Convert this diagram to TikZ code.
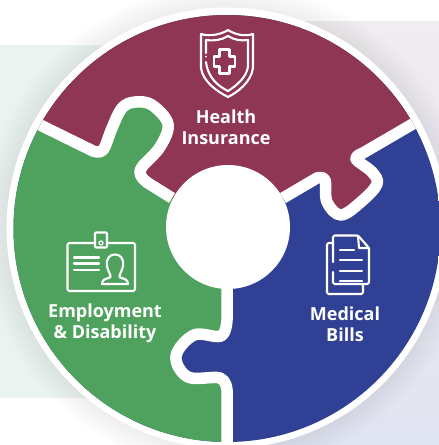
\documentclass[tikz,border=0pt]{standalone}
\usepackage{fontspec}
\setmainfont{Open Sans}
\definecolor{maroonp}{HTML}{8E3654}
\definecolor{greenp}{HTML}{4FA25E}
\definecolor{bluep}{HTML}{2F4095}
\definecolor{panelg}{HTML}{EBF3F1}
\definecolor{paneltop}{HTML}{F0ECF0}
\definecolor{panelbot}{HTML}{E1E5F1}
\tikzset{
  gmpath/.style={insert path={-- plot[smooth,tension=0.6] coordinates {(93,151) (103,150) (112,128) (122,108) (135,102) (152,105) (168,124) (160,147) (142,167) (141,176) (148,183)}}},
  mbpath/.style={insert path={-- plot[smooth,tension=0.6] coordinates {(317,178) (325,180) (327,202) (341,215) (362,201) (377,184) (372,172) (356,159) (363,153)}}},
  gbpath/.style={insert path={-- plot[smooth,tension=0.6] coordinates {(227,320) (221,336) (194,335) (176,356) (188,377) (220,378) (227,390)}}},
  gapline/.style={draw=white,line width=11.5pt,line join=round},
  iconline/.style={draw=white,line width=2.1pt,line join=round,line cap=round},
  puzzlelabel/.style={text=white,font=\fontsize{18}{21}\selectfont\bfseries,align=center,inner sep=0pt}
}
\begin{document}
\begin{tikzpicture}[x=1pt,y=-1pt]
\useasboundingbox (0,0) rectangle (439,445);
\fill[white] (0,0) rectangle (439,445);
\fill[panelg] (0,45) rectangle (228,398);
\shade[top color=paneltop,bottom color=panelbot] (228,21) rectangle (439,445);
% soft shadow
\foreach \r in {221,222.5,...,246}{\fill[black,opacity=0.0045] (227,228) circle (\r);}
% white ring
\fill[white] (227,228) circle (220.5);
\begin{scope}
\clip (227,228.5) circle (213.5);
\fill[bluep] (0,0) rectangle (439,445);
\fill[maroonp] (20,115) -- (40,125) [gmpath] -- (172,198) -- (228,227) -- (283,198) [mbpath] -- (413,124) -- (440,108) -- (440,0) -- (0,0) -- cycle;
\fill[greenp] (20,115) -- (40,125) [gmpath] -- (172,198) -- (228,227) -- (227,288) [gbpath] -- (227,445) -- (0,445) -- cycle;
% white gaps
\draw[gapline] (30,120) [gmpath] -- (172,198);
\draw[gapline] (283,198) [mbpath] -- (423,118);
\draw[gapline] (227,280) [gbpath] -- (227,450);
\end{scope}
\fill[white] (228,227) circle (62);
% shield
\draw[iconline] (228,30) .. controls (222,34) and (210,37) .. (201,34) -- (201,68) .. controls (203,82) and (218,92) .. (228,97) .. controls (238,92) and (251,82) .. (253,68) -- (253,34) .. controls (244,37) and (234,34) .. (228,30) -- cycle;
\draw[iconline] (206,53) -- (206,40) .. controls (214,41) and (222,40) .. (228,36) .. controls (234,40) and (241,41) .. (248,40) -- (248,67) .. controls (246,78) and (236,86) .. (228,91) .. controls (218,86) and (208,78) .. (206,62);
\fill[white] (206,56.5) circle (1);
\draw[iconline] (219.5,49.5) -- (229.5,49.5) -- (229.5,56.5) -- (235,56.5) -- (235,66.5) -- (229.5,66.5) -- (229.5,73.5) -- (219.5,73.5) -- (219.5,66.5) -- (214,66.5) -- (214,56.5) -- (219.5,56.5) -- cycle;
% id card
\draw[iconline,rounded corners=1.5pt] (95,243) -- (67.5,243) -- (67.5,291) -- (135,291) -- (135,243) -- (107,243);
\draw[iconline,rounded corners=1pt] (95,232.5) rectangle (107,247.5);
\draw[draw=white,line width=1.2pt] (101,243) circle (2);
\draw[iconline] (74,257.5) -- (99,257.5) (74,263.5) -- (99,263.5) (74,270) -- (99,270);
\draw[iconline] (102,284) -- (128,284) .. controls (128,279) and (124,279) .. (120,277.5) .. controls (118,276) and (122,272) .. (123,266) .. controls (124,258) and (120,254.5) .. (115,254.5) .. controls (110,254.5) and (106,258) .. (107,266) .. controls (108,272) and (112,276) .. (110,277.5) .. controls (106,279) and (102,279) .. (102,284) -- cycle;
% document
\draw[iconline,rounded corners=1.5pt] (333,272) -- (333,284) -- (369,284) -- (369,248) -- (358,235.5) -- (333,235.5) -- (333,262);
\draw[iconline] (358,235.5) -- (359,248) -- (369,248);
\draw[iconline,rounded corners=1.5pt] (333,243) -- (327,243) -- (327,294) -- (363,294) -- (363,285);
\draw[iconline] (340,250) -- (354,250) (340,260) -- (362,260) (340,271) -- (362,271) (340,281) -- (362,281);
% labels
\node[puzzlelabel] (health) at (226,127) {Health\\Insurance};
\node[puzzlelabel] (employ) at (105,323) {Employment\\\& Disability};
\node[puzzlelabel] (medical) at (345,324) {Medical\\Bills};
\end{tikzpicture}
\end{document}
